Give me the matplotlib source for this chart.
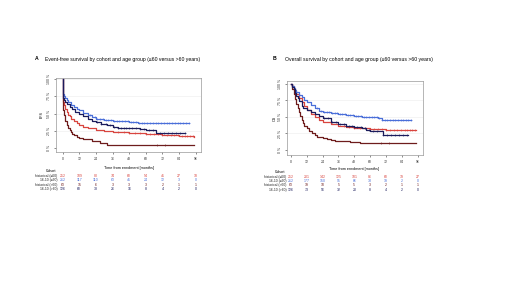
import numpy as np
import matplotlib.pyplot as plt
import matplotlib.transforms as mtrans

plt.rcParams['font.family'] = ['Liberation Sans', 'DejaVu Sans']

# cohorts (order of the risk table)
cohorts = ['historical (\u226460)', '16-10 (\u226460)', 'historical (>60)', '16-10 (>60)']
colors = ['#d8453f', '#4a6fd9', '#6e1c1c', '#1b1c5c']
risk_times = [0, 12, 24, 36, 48, 60, 72, 84, 96]

# EFS curves (months, %)
efs_t = [
    [0, 0.3, 1, 2, 3, 4, 5, 6, 8, 10, 12, 15, 18, 24, 30, 36, 48, 60, 72, 84, 95],
    [0, 0.3, 1, 2, 3, 4, 6, 8, 10, 12, 15, 18, 21, 24, 30, 36, 42, 48, 54, 60, 66, 72, 80, 91],
    [0, 0.3, 1, 2, 3, 4, 5, 6, 7, 8, 10, 12, 15, 18, 21, 24, 27, 30, 32, 95],
    [0, 0.3, 1, 2, 3, 5, 7, 9, 12, 15, 18, 21, 24, 28, 32, 36, 40, 44, 48, 56, 60, 66, 67.5, 88],
]
efs_s = [
    [100, 67, 62, 57, 52, 48, 46, 43, 39, 36, 34, 31, 29, 26, 24.5, 23.5, 22, 20.7, 19, 17.5, 17],
    [100, 79, 76, 73, 70, 67, 63, 60, 57, 55, 51, 48, 45, 43, 41, 40, 39, 38, 37, 36.5, 36, 36, 36, 36],
    [100, 55, 48, 40, 33, 30, 27, 24, 21, 19, 17, 15, 14, 13, 11, 10, 8, 7, 5, 5],
    [100, 73, 70, 67, 64, 60, 56, 53, 50, 46, 43, 40, 38, 35, 33, 31, 30, 29, 29, 28, 27, 26, 21.6, 21.6],
]
efs_risk = [
    [252, 109, 80, 74, 60, 54, 41, 27, 18],
    [212, 117, 110, 63, 41, 24, 12, 3, 0],
    [63, 15, 6, 3, 3, 3, 2, 1, 1],
    [126, 60, 38, 26, 16, 8, 4, 2, 0],
]

# OS curves (months, %)
os_t = [
    [0, 1, 2, 3, 4, 6, 8, 10, 12, 15, 18, 21, 24, 30, 36, 42, 48, 54, 60, 72, 84, 95],
    [0, 1, 2, 3, 4, 6, 8, 10, 12, 15, 18, 21, 24, 30, 36, 42, 48, 54, 60, 66, 69, 80, 91],
    [0, 1, 2, 3, 4, 5, 6, 7, 8, 9, 10, 12, 14, 16, 18, 20, 22, 24, 27, 30, 33, 36, 45, 52, 95],
    [0, 1, 2, 3, 4, 5, 6, 8, 9, 12, 15, 18, 21, 24, 30, 36, 42, 48, 54, 57, 60, 66, 69.5, 89],
]
os_s = [
    [100, 97, 93, 89, 85, 78, 72, 66, 61, 55, 50, 46, 43, 39, 37, 35.5, 34, 33, 32, 31, 30.5, 30],
    [100, 97, 94, 91, 88, 84, 80, 76, 73, 68, 63, 59, 57, 55.5, 54.5, 53, 51.5, 50.5, 49.5, 48, 45.5, 45.5, 45.5],
    [100, 92, 85, 77, 70, 64, 57, 51, 46, 41, 37, 33, 28, 25, 22, 20, 19, 18, 16, 15, 14, 13, 12, 10, 10],
    [100, 96, 92, 87, 82, 78, 74, 67, 63, 60, 57, 54, 51, 48, 43, 39, 37, 35, 33, 30, 29.5, 29, 22.7, 22.7],
]
os_risk = [
    [252, 201, 142, 125, 101, 86, 60, 39, 27],
    [212, 177, 150, 95, 66, 33, 19, 2, 0],
    [63, 19, 10, 5, 5, 3, 2, 1, 1],
    [126, 73, 56, 32, 20, 8, 4, 2, 0],
]

# censoring times per cohort
censor = [
    [40, 44, 48, 52, 56, 60, 63, 66, 69, 72, 75, 78, 80, 83, 86, 88, 90, 92, 94],
    [20, 23, 25, 27, 29, 31, 33, 35, 37, 39, 41, 43, 45, 47, 49, 51, 53, 55, 57, 59, 61, 63,
     65, 67, 69, 71, 73, 75, 77, 79, 81, 83, 85, 87, 89, 91],
    [68, 74],
    [25, 28, 31, 34, 37, 40, 42, 44, 46, 48, 50, 53, 56, 59, 62, 65, 70, 73, 76, 79, 82, 85, 88],
]

W, H = 520, 292
fig = plt.figure(figsize=(5.2, 2.92), dpi=100)


def fx(px):
    return px / W


def fy(py):
    return 1 - py / H


panels = [
    dict(box=(56, 78, 201, 152), xlim=(-4.8, 99.8), ylim=(-5.3, 101.4), tt=efs_t, ss=efs_s,
         risk=efs_risk, ylab='EFS', letter='A', lx=35, tx=45,
         title='Event-free survival by cohort and age group (\u226460 versus >60 years)',
         xlab_y=167.5, ylab_x=41.7, cohort_y=171, rows_y=[175.7, 180, 184.6, 189], lab_x=57.5),
    dict(box=(287, 81, 423, 155), xlim=(-3.0, 100), ylim=(-7.6, 104.5), tt=os_t, ss=os_s,
         risk=os_risk, ylab='OS', letter='B', lx=273, tx=285,
         title='Overall survival by cohort and age group (\u226460 versus >60 years)',
         xlab_y=169, ylab_x=274.5, cohort_y=172.3, rows_y=[176.7, 181, 185.3, 189.7], lab_x=286.5),
]

for p in panels:
    x0, y0, x1, y1 = p['box']
    ax = fig.add_axes([fx(x0), fy(y1), fx(x1 - x0), (y1 - y0) / H])
    ax.set_xlim(*p['xlim'])
    ax.set_ylim(*p['ylim'])
    for yv in [25, 50, 75, 100]:
        ax.axhline(yv, color='#ececec', lw=0.4, zorder=0)
    for i in range(4):
        t = np.array(p['tt'][i])
        s = np.array(p['ss'][i])
        ax.step(t, s, where='post', color=colors[i], lw=0.9)
        c = np.array([v for v in censor[i] if v <= t[-1]])
        idx = np.searchsorted(t, c, side='right') - 1
        ax.plot(c, s[idx], ls='none', marker='+', ms=1.5, mew=0.4, color=colors[i])
    ax.set_xticks(risk_times)
    ax.set_yticks([0, 25, 50, 75, 100])
    ax.set_yticklabels(['0 %', '25 %', '50 %', '75 %', '100 %'], rotation=90, va='center')
    ax.tick_params(labelsize=2.5, length=1.5, width=0.4, pad=1.8, colors='#333333')
    for sp in ax.spines.values():
        sp.set_linewidth(0.5)
        sp.set_color('#999999')

    # texts in figure pixels
    fig.text(fx(p['lx']), fy(59), p['letter'], fontsize=3.7, fontweight='bold', va='center')
    fig.text(fx(p['tx']), fy(59), p['title'], fontsize=3.7, va='center')
    fig.text(fx(p['ylab_x']), fy((y0 + y1) / 2), p['ylab'], fontsize=2.6, rotation=90,
             ha='center', va='center')
    tr = mtrans.blended_transform_factory(ax.transData, fig.transFigure)
    ax.text(48, fy(p['xlab_y']), 'Time from enrolment [months]', transform=tr, fontsize=2.7,
            ha='center', va='center', clip_on=False)

    # risk table
    fig.text(fx(p['lab_x'] - 6), fy(p['cohort_y']), 'Cohort', fontsize=2.5, ha='center', va='center')
    for i in range(4):
        ry = fy(p['rows_y'][i])
        fig.text(fx(p['lab_x']), ry, cohorts[i], fontsize=2.4, ha='right', va='center', color='#222222')
        for tv, n in zip(risk_times, p['risk'][i]):
            ax.text(tv, ry, str(n), transform=tr, fontsize=2.5, ha='center', va='center',
                    color=colors[i], clip_on=False)

fig.savefig('out.png', dpi=100, facecolor='white')
